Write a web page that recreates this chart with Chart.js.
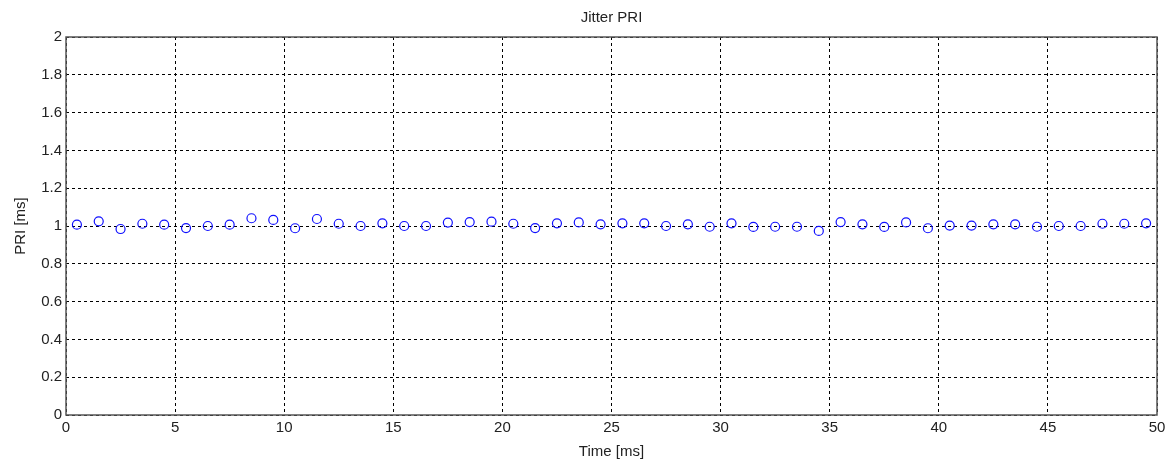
<!DOCTYPE html>
<html>
<head>
<meta charset="utf-8">
<title>Jitter PRI</title>
<script src="https://cdn.jsdelivr.net/npm/chart.js@4.4.0/dist/chart.umd.min.js"></script>
<style>
  html, body { margin: 0; padding: 0; background: #fff; }
  #wrap { width: 1173px; height: 461px; }
</style>
</head>
<body>
<div id="wrap"><canvas id="myChart" width="1173" height="461"></canvas></div>
<script>
// pulse times (ms) and measured PRI (ms)
const times = [
  0.5, 1.5, 2.5, 3.5, 4.5, 5.5, 6.5, 7.5, 8.5, 9.5,
  10.5, 11.5, 12.5, 13.5, 14.5, 15.5, 16.5, 17.5, 18.5, 19.5,
  20.5, 21.5, 22.5, 23.5, 24.5, 25.5, 26.5, 27.5, 28.5, 29.5,
  30.5, 31.5, 32.5, 33.5, 34.5, 35.5, 36.5, 37.5, 38.5, 39.5,
  40.5, 41.5, 42.5, 43.5, 44.5, 45.5, 46.5, 47.5, 48.5, 49.5
];
const priValues = [
  1.007, 1.025, 0.984, 1.012, 1.007, 0.989, 1.0, 1.007, 1.041, 1.032,
  0.988, 1.037, 1.012, 1.0, 1.014, 1.0, 1.0, 1.018, 1.021, 1.023,
  1.012, 0.989, 1.014, 1.019, 1.009, 1.014, 1.014, 1.0, 1.009, 0.996,
  1.014, 0.995, 0.996, 0.996, 0.974, 1.021, 1.009, 0.995, 1.019, 0.988,
  1.002, 1.002, 1.009, 1.009, 0.996, 1.0, 1.0, 1.012, 1.012, 1.014
];
const xTicks = [0, 5, 10, 15, 20, 25, 30, 35, 40, 45, 50];
const yTicks = [0, 0.2, 0.4, 0.6, 0.8, 1, 1.2, 1.4, 1.6, 1.8, 2];

const points = times.map((t, i) => ({x: t, y: priValues[i]}));

const fontFamily = "'Liberation Sans', Arial, sans-serif";

// box around the axes, like a matlab plot
const frame = {
  id: 'frame',
  afterDraw(chart) {
    const {ctx, chartArea: a} = chart;
    ctx.save();
    ctx.strokeStyle = '#555';
    ctx.lineWidth = 1.5;
    ctx.strokeRect(a.left, a.top, a.right - a.left, a.bottom - a.top);
    ctx.restore();
  }
};

const data = {
  datasets: [
    {
      label: 'PRI',
      data: points,
      showLine: false,
      pointStyle: 'circle',
      pointRadius: 4.5,
      pointBorderWidth: 1.2,
      pointBorderColor: '#1010ff',
      pointBackgroundColor: 'rgba(0,0,0,0)',
    },
  ],
};

const config = {
  type: 'scatter',
  data: data,
  options: {
    responsive: false,
    animation: false,
    layout: { padding: { left: 0, right: 16, top: 0, bottom: 0 } },
    plugins: {
      legend: { display: false },
      tooltip: { enabled: false },
      title: {
        display: true,
        fullSize: false,
        text: 'Jitter PRI',
        color: '#222',
        font: { family: fontFamily, size: 15, weight: 'normal' },
        padding: { top: 9, bottom: 10 },
      },
    },
    scales: {
      x: {
        type: 'linear',
        min: 0,
        max: 50,
        afterBuildTicks: (scale) => { scale.ticks = xTicks.map(v => ({value: v})); },
        afterFit: (scale) => { scale.height = 46; },
        grid: {
          color: '#000',
          lineWidth: 1,
          drawTicks: false,
        },
        border: { display: false, dash: [3, 3] },
        ticks: {
          color: '#222',
          padding: 4,
          font: { family: fontFamily, size: 15 },
        },
        title: {
          display: true,
          text: 'Time [ms]',
          color: '#222',
          padding: { top: 0, bottom: 0 },
          font: { family: fontFamily, size: 15 },
        },
      },
      y: {
        type: 'linear',
        min: 0,
        max: 2,
        afterBuildTicks: (scale) => { scale.ticks = yTicks.map(v => ({value: v})); },
        afterFit: (scale) => { scale.width = 66; },
        grid: {
          color: '#000',
          lineWidth: 1,
          drawTicks: false,
        },
        border: { display: false, dash: [3, 3] },
        ticks: {
          color: '#222',
          padding: 4,
          font: { family: fontFamily, size: 15 },
          callback: (v) => String(Math.round(v * 10) / 10),
        },
        title: {
          display: true,
          text: 'PRI [ms]',
          color: '#222',
          padding: { top: 12, bottom: 4 },
          font: { family: fontFamily, size: 15 },
        },
      },
    },
  },
  plugins: [frame],
};

window.onload = function () {
  const ctx = document.getElementById('myChart');
  new Chart(ctx, config);
};
</script>
</body>
</html>
